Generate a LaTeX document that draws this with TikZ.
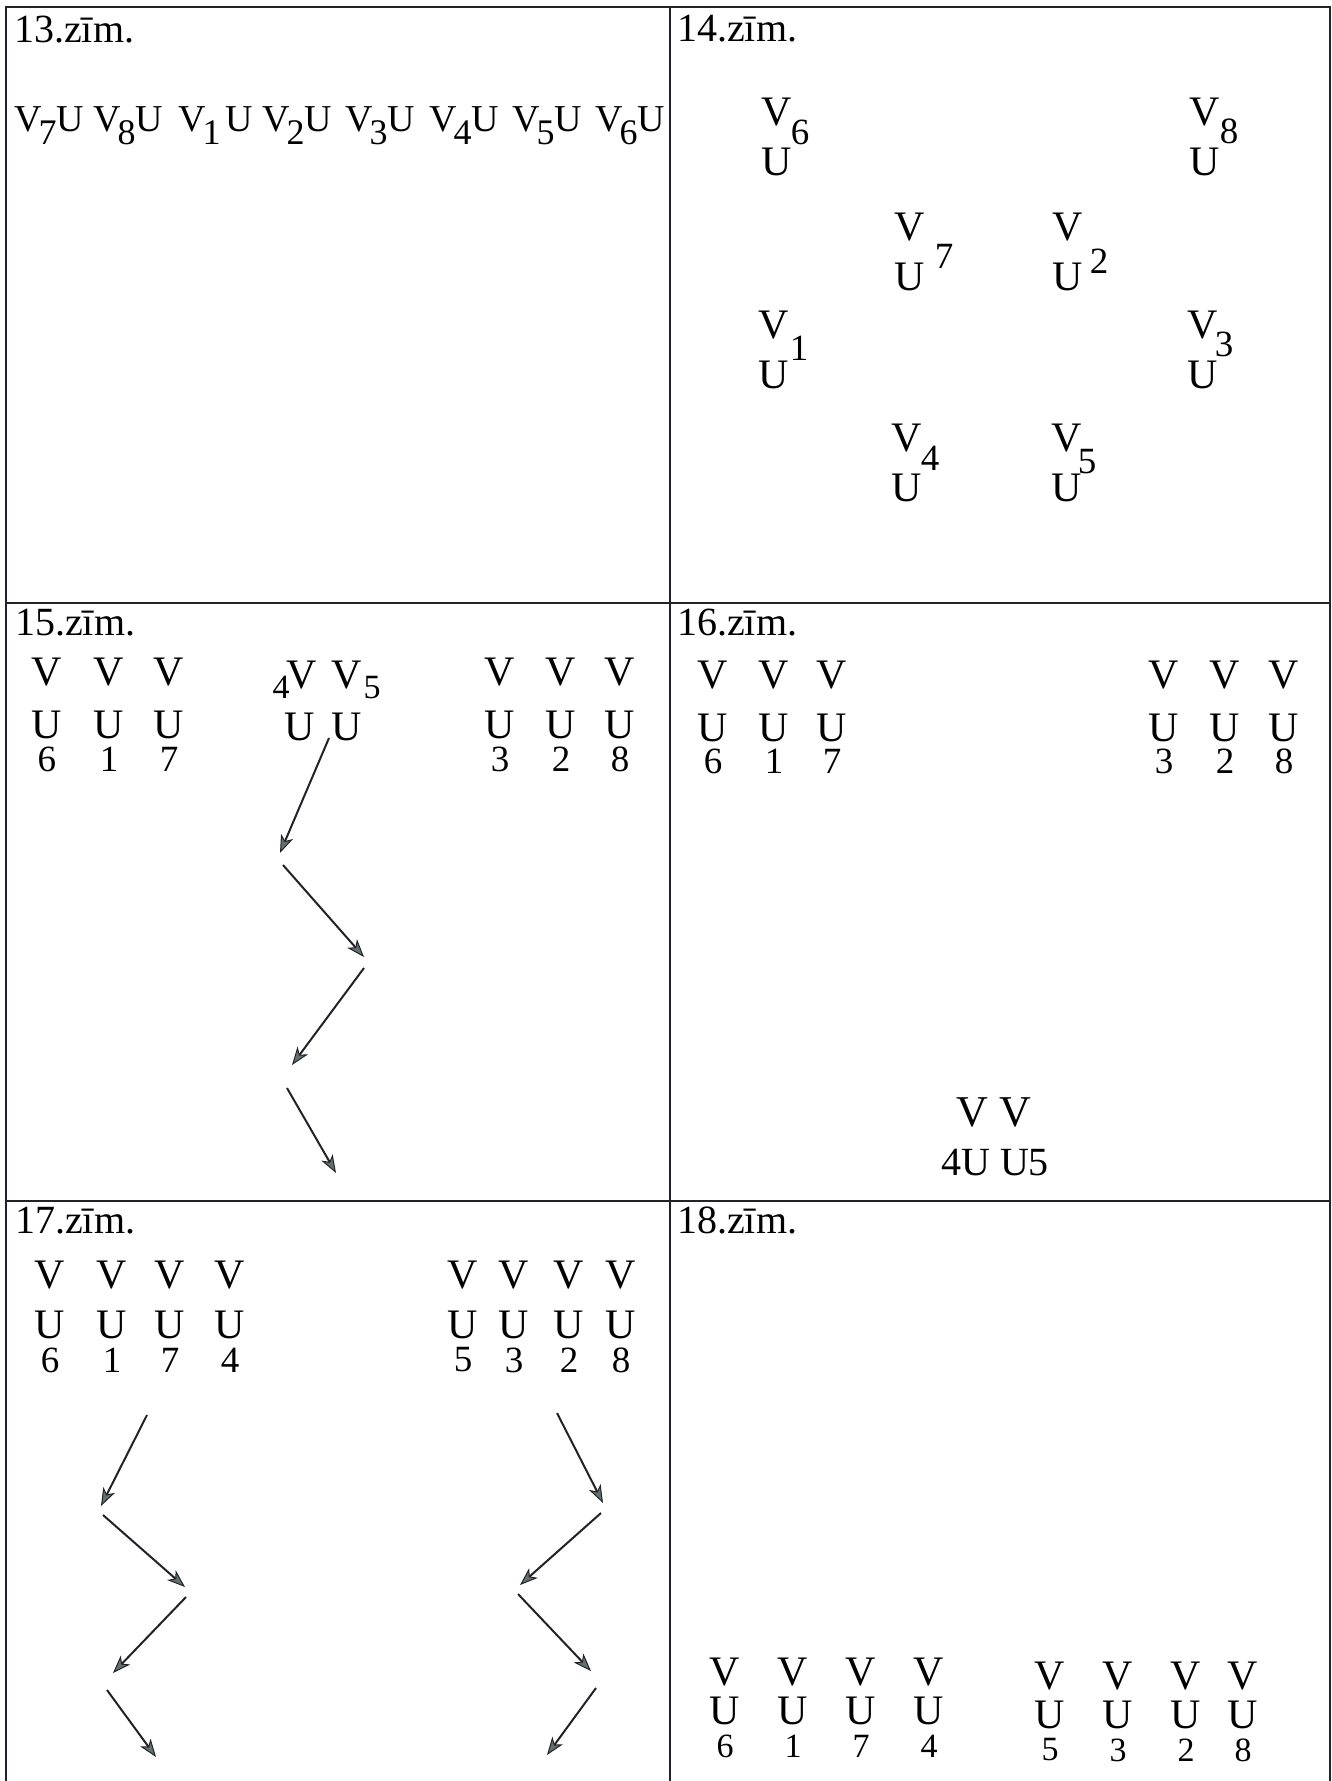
\documentclass[tikz,border=0pt]{standalone}
\usepackage{fontspec}
\setmainfont{Liberation Serif}
\usetikzlibrary{arrows.meta}
\definecolor{inkgray}{RGB}{34,34,40}
\definecolor{tipgray}{RGB}{100,112,112}

\begin{document}
\begin{tikzpicture}[x=1pt, y=-1pt, >={Stealth[length=18pt, width=13pt, inset=5pt, line width=1pt, fill=tipgray]}]
\tikzstyle{title}=[anchor=base west, inner sep=0pt, font=\fontsize{40}{40}\selectfont]
\tikzstyle{letter}=[inner sep=0pt, font=\fontsize{42}{42}\selectfont]
\tikzstyle{digit}=[inner sep=0pt, font=\fontsize{37}{37}\selectfont]
\tikzstyle{small}=[inner sep=0pt, font=\fontsize{34}{34}\selectfont]
\tikzstyle{grid}=[draw=inkgray, line width=2.5pt]
\tikzstyle{arr}=[->, draw=inkgray, line width=2pt]

\useasboundingbox (0,0) rectangle (1332,1781);

% frame
\draw[grid] (6,1781) -- (6,7) -- (1330,7) -- (1330,1781);
\draw[grid] (670,7) -- (670,1781);
\draw[grid] (6,603) -- (1330,603);
\draw[grid] (6,1201) -- (1330,1201);

% 13.zim.
\node[title] (t13) at (14,42) {13.zīm.};
\foreach \d/\x/\k in {7/14/0,8/93/0,1/178/5,2/262/0,3/345/0,4/429/0,5/512/0,6/595/0}
  \node[letter, anchor=base west, font=\fontsize{38}{38}\selectfont] (g\d) at (\x,131)
    {V\kern-3pt\raisebox{-13pt}{\fontsize{36}{36}\selectfont\d}\kern\k pt U};

% 14.zim.
\node[title] (t14) at (677,41) {14.zīm.};
\foreach \d/\x/\y/\nx/\ny in {6/777/112/800/132, 8/1205/112/1229/131, 7/910/227/944/256,
    2/1068/227/1099/261, 1/774/325/799/348, 3/1203/325/1224/344, 4/907/438/930/458, 5/1067/438/1087/462} {
  \node[letter] (bv\d) at (\x,\y) {V};
  \node[letter] (bu\d) at (\x,\y+50) {U};
  \node[digit] (bn\d) at (\nx,\ny) {\d};
}

% 15.zim.
\node[title] (t15) at (15,635) {15.zīm.};
\foreach \d/\x in {6/47,1/109,7/169,3/500,2/561,8/620} {
  \node[letter] (cv\d) at (\x,672) {V};
  \node[letter] (cu\d) at (\x,725) {U};
  \node[digit] (cn\d) at (\x,759) {\d};
}
\node[small] (cn4) at (281,687) {4};
\node[letter] (cv4) at (302,675) {V};
\node[letter] (cv5) at (347,675) {V};
\node[small] (cn5) at (372,688) {5};
\node[letter] (cu4) at (300,727) {U};
\node[letter] (cu5) at (347,727) {U};

\coordinate (z1) at (329,738);
\coordinate (z2) at (280,853);
\coordinate (z3) at (283,865);
\coordinate (z4) at (364,957);
\coordinate (z5) at (364,968);
\coordinate (z6) at (292,1065);
\coordinate (z7) at (287,1088);
\coordinate (z8) at (336,1173);
\draw[arr] (z1) -- (z2);
\draw[arr] (z3) -- (z4);
\draw[arr] (z5) -- (z6);
\draw[arr] (z7) -- (z8);

% 16.zim.
\node[title] (t16) at (677,635) {16.zīm.};
\foreach \d/\x in {6/713,1/774,7/832,3/1164,2/1225,8/1284} {
  \node[letter] (dv\d) at (\x,675) {V};
  \node[letter] (du\d) at (\x,728) {U};
  \node[digit] (dn\d) at (\x,761) {\d};
}
\node[letter, font=\fontsize{44}{44}\selectfont] (dvv) at (994,1112) {V V};
\node[letter, font=\fontsize{40}{40}\selectfont] (duu) at (995,1163) {4U U5};

% 17.zim.
\node[title] (t17) at (15,1233) {17.zīm.};
\foreach \d/\x in {6/50,1/112,7/170,4/230,5/463,3/514,2/569,8/621} {
  \node[letter] (ev\d) at (\x,1275) {V};
  \node[letter] (eu\d) at (\x,1325) {U};
  \node[digit] (en\d) at (\x,1360) {\d};
}

\coordinate (l1) at (147,1415);
\coordinate (l2) at (101,1506);
\coordinate (l3) at (103,1515);
\coordinate (l4) at (185,1587);
\coordinate (l5) at (186,1597);
\coordinate (l6) at (113,1673);
\coordinate (l7) at (107,1690);
\coordinate (l8) at (156,1757);
\draw[arr] (l1) -- (l2);
\draw[arr] (l3) -- (l4);
\draw[arr] (l5) -- (l6);
\draw[arr] (l7) -- (l8);

\coordinate (r1) at (557,1413);
\coordinate (r2) at (603,1503);
\coordinate (r3) at (601,1513);
\coordinate (r4) at (520,1585);
\coordinate (r5) at (518,1594);
\coordinate (r6) at (591,1671);
\coordinate (r7) at (596,1688);
\coordinate (r8) at (547,1755);
\draw[arr] (r1) -- (r2);
\draw[arr] (r3) -- (r4);
\draw[arr] (r5) -- (r6);
\draw[arr] (r7) -- (r8);

% 18.zim.
\node[title] (t18) at (677,1233) {18.zīm.};
\foreach \d/\x/\s in {6/725/0,1/793/0,7/861/0,4/929/0,5/1050/4,3/1118/4,2/1186/4,8/1243/4} {
  \node[letter] (fv\d) at (\x,1672+\s) {V};
  \node[letter] (fu\d) at (\x,1711+\s) {U};
  \node[small] (fn\d) at (\x,1746+\s) {\d};
}
\end{tikzpicture}
\end{document}
